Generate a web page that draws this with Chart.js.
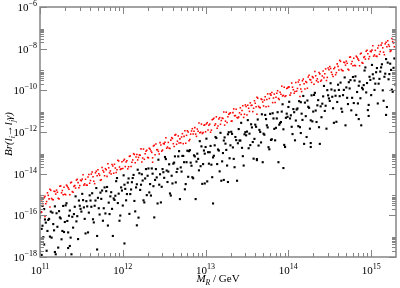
<!DOCTYPE html>
<html lang="en">
  <head>
    <meta charset="UTF-8" />
    <title>Br(li -> lj gamma) vs MR</title>
    <style>
      body { margin: 0; background: #fff; }
    </style>
  </head>
  <body>
    <canvas id="brChart" width="400" height="288"></canvas>
    <script src="https://cdn.jsdelivr.net/npm/chart.js"></script>
    <script>
      // points as [log10(M_R / GeV), log10(Br)]
      const redPts = [
        [11.01,-15.14],[11.03,-15.43],[11.05,-15.15],[11.07,-15.44],[11.09,-14.92],
        [11.11,-15.21],[11.13,-14.80],[11.15,-15.24],[11.17,-14.84],[11.19,-14.98],
        [11.21,-14.89],[11.23,-15.21],[11.25,-14.59],[11.27,-14.81],[11.29,-14.65],
        [11.31,-15.01],[11.33,-14.60],[11.35,-14.75],[11.37,-14.44],[11.39,-14.86],
        [11.41,-14.61],[11.43,-14.69],[11.45,-14.27],[11.47,-14.68],[11.49,-14.31],
        [11.51,-14.26],[11.53,-14.55],[11.55,-14.27],[11.57,-14.56],[11.59,-14.04],
        [11.61,-14.33],[11.63,-13.92],[11.65,-14.36],[11.67,-13.96],[11.69,-14.10],
        [11.71,-14.00],[11.73,-14.32],[11.75,-13.70],[11.77,-13.92],[11.79,-13.76],
        [11.81,-14.13],[11.83,-13.72],[11.85,-13.87],[11.87,-13.56],[11.89,-13.98],
        [11.91,-13.73],[11.93,-13.81],[11.95,-13.39],[11.97,-13.80],[11.99,-13.43],
        [12.01,-13.37],[12.03,-13.66],[12.05,-13.38],[12.07,-13.67],[12.09,-13.15],
        [12.11,-13.45],[12.13,-13.04],[12.15,-13.48],[12.17,-13.08],[12.19,-13.22],
        [12.21,-13.12],[12.23,-13.44],[12.25,-12.82],[12.27,-13.04],[12.29,-12.88],
        [12.31,-13.24],[12.33,-12.83],[12.35,-12.98],[12.37,-12.67],[12.39,-13.09],
        [12.41,-12.85],[12.43,-12.93],[12.45,-12.51],[12.47,-12.92],[12.49,-12.55],
        [12.51,-12.49],[12.53,-12.78],[12.55,-12.50],[12.57,-12.79],[12.59,-12.27],
        [12.61,-12.56],[12.63,-12.15],[12.65,-12.59],[12.67,-12.19],[12.69,-12.33],
        [12.71,-12.24],[12.73,-12.56],[12.75,-11.94],[12.77,-12.16],[12.79,-12.00],
        [12.81,-12.36],[12.83,-11.95],[12.85,-12.10],[12.87,-11.79],[12.89,-12.21],
        [12.91,-11.96],[12.93,-12.04],[12.95,-11.62],[12.97,-12.03],[12.99,-11.66],
        [13.01,-11.61],[13.03,-11.90],[13.05,-11.62],[13.07,-11.91],[13.09,-11.39],
        [13.11,-11.68],[13.13,-11.27],[13.15,-11.71],[13.17,-11.31],[13.19,-11.45],
        [13.21,-11.35],[13.23,-11.67],[13.25,-11.05],[13.27,-11.27],[13.29,-11.11],
        [13.31,-11.48],[13.33,-11.07],[13.35,-11.22],[13.37,-10.91],[13.39,-11.33],
        [13.41,-11.08],[13.43,-11.16],[13.45,-10.74],[13.47,-11.15],[13.49,-10.78],
        [13.51,-10.72],[13.53,-11.01],[13.55,-10.73],[13.57,-11.02],[13.59,-10.50],
        [13.61,-10.79],[13.63,-10.38],[13.65,-10.82],[13.67,-10.42],[13.69,-10.56],
        [13.71,-10.47],[13.73,-10.79],[13.75,-10.17],[13.77,-10.39],[13.79,-10.23],
        [13.81,-10.59],[13.83,-10.18],[13.85,-10.33],[13.87,-10.02],[13.89,-10.44],
        [13.91,-10.19],[13.93,-10.27],[13.95,-9.85],[13.97,-10.26],[13.99,-9.89],
        [14.01,-9.84],[14.03,-10.13],[14.05,-9.85],[14.07,-10.14],[14.09,-9.62],
        [14.11,-9.91],[14.13,-9.50],[14.15,-9.94],[14.17,-9.54],[14.19,-9.68],
        [14.21,-9.58],[14.23,-9.90],[14.25,-9.28],[14.27,-9.50],[14.29,-9.34],
        [14.31,-9.71],[14.33,-9.30],[14.35,-9.45],[14.37,-9.14],[14.39,-9.56],
        [14.41,-9.31],[14.43,-9.39],[14.45,-8.97],[14.47,-9.38],[14.49,-9.01],
        [14.51,-8.95],[14.53,-9.24],[14.55,-8.96],[14.57,-9.25],[14.59,-8.73],
        [14.61,-9.02],[14.63,-8.61],[14.65,-9.05],[14.67,-8.65],[14.69,-8.79],
        [14.71,-8.70],[14.73,-9.02],[14.75,-8.40],[14.77,-8.62],[14.79,-8.46],
        [14.81,-8.82],[14.83,-8.41],[14.85,-8.56],[14.87,-8.25],[14.89,-8.67],
        [14.91,-8.42],[14.93,-8.50],[14.95,-8.08],[14.97,-8.49],[14.99,-8.12],
        [15.01,-8.07],[15.03,-8.36],[15.05,-8.08],[15.07,-8.37],[15.09,-7.85],
        [15.11,-8.14],[15.13,-7.73],[15.15,-8.17],[15.17,-7.77],[15.19,-7.91],
        [15.21,-7.81],[15.23,-8.13],[15.25,-7.51],[15.27,-7.73],[15.29,-7.57],
        [11.00,-15.05],[11.02,-15.32],[11.04,-15.53],[11.06,-15.09],[11.08,-15.34],
        [11.10,-15.04],[11.12,-14.75],[11.14,-15.19],[11.16,-15.25],[11.18,-14.86],
        [11.20,-14.79],[11.22,-15.18],[11.24,-14.60],[11.26,-14.92],[11.28,-15.01],
        [11.30,-14.99],[11.32,-14.55],[11.34,-14.68],[11.36,-15.01],[11.38,-14.41],
        [11.40,-14.89],[11.42,-14.57],[11.44,-14.31],[11.46,-14.43],[11.48,-14.57],
        [11.50,-14.34],[11.52,-14.05],[11.54,-14.49],[11.56,-14.55],[11.58,-14.16],
        [11.60,-14.46],[11.62,-14.02],[11.64,-14.15],[11.66,-14.48],[11.68,-13.88],
        [11.70,-13.81],[11.72,-14.08],[11.74,-14.29],[11.76,-13.85],[11.78,-14.10],
        [11.80,-13.81],[11.82,-13.52],[11.84,-13.96],[11.86,-14.02],[11.88,-13.63],
        [11.90,-13.55],[11.92,-13.94],[11.94,-13.36],[11.96,-13.68],[11.98,-13.77],
        [12.00,-13.75],[12.02,-13.31],[12.04,-13.44],[12.06,-13.77],[12.08,-13.17],
        [12.10,-13.66],[12.12,-13.34],[12.14,-13.08],[12.16,-13.20],[12.18,-13.34],
        [12.20,-13.10],[12.22,-12.81],[12.24,-13.25],[12.26,-13.31],[12.28,-12.92],
        [12.30,-13.22],[12.32,-12.78],[12.34,-12.91],[12.36,-13.24],[12.38,-12.64],
        [12.40,-12.58],[12.42,-12.85],[12.44,-13.06],[12.46,-12.62],[12.48,-12.87],
        [12.50,-12.57],[12.52,-12.28],[12.54,-12.72],[12.56,-12.78],[12.58,-12.39],
        [12.60,-12.31],[12.62,-12.70],[12.64,-12.12],[12.66,-12.44],[12.68,-12.53],
        [12.70,-12.52],[12.72,-12.08],[12.74,-12.21],[12.76,-12.54],[12.78,-11.94],
        [12.80,-12.42],[12.82,-12.10],[12.84,-11.84],[12.86,-11.96],[12.88,-12.10],
        [12.90,-11.86],[12.92,-11.57],[12.94,-12.01],[12.96,-12.07],[12.98,-11.68],
        [13.00,-11.99],[13.02,-11.55],[13.04,-11.68],[13.06,-12.01],[13.08,-11.41],
        [13.10,-11.34],[13.12,-11.61],[13.14,-11.82],[13.16,-11.38],[13.18,-11.63],
        [13.20,-11.33],[13.22,-11.04],[13.24,-11.48],[13.26,-11.54],[13.28,-11.15],
        [13.30,-11.08],[13.32,-11.47],[13.34,-10.89],[13.36,-11.21],[13.38,-11.30],
        [13.40,-11.28],[13.42,-10.84],[13.44,-10.97],[13.46,-11.30],[13.48,-10.70],
        [13.50,-11.18],[13.52,-10.86],[13.54,-10.60],[13.56,-10.72],[13.58,-10.86],
        [13.60,-10.62],[13.62,-10.33],[13.64,-10.77],[13.66,-10.83],[13.68,-10.44],
        [13.70,-10.75],[13.72,-10.31],[13.74,-10.44],[13.76,-10.77],[13.78,-10.17],
        [13.80,-10.10],[13.82,-10.37],[13.84,-10.58],[13.86,-10.14],[13.88,-10.39],
        [13.90,-10.09],[13.92,-9.80],[13.94,-10.24],[13.96,-10.30],[13.98,-9.91],
        [14.00,-9.84],[14.02,-10.23],[14.04,-9.65],[14.06,-9.97],[14.08,-10.06],
        [14.10,-10.04],[14.12,-9.60],[14.14,-9.73],[14.16,-10.06],[14.18,-9.46],
        [14.20,-9.94],[14.22,-9.62],[14.24,-9.36],[14.26,-9.48],[14.28,-9.62],
        [14.30,-9.39],[14.32,-9.10],[14.34,-9.54],[14.36,-9.60],[14.38,-9.21],
        [14.40,-9.51],[14.42,-9.07],[14.44,-9.20],[14.46,-9.53],[14.48,-8.93],
        [14.50,-8.86],[14.52,-9.13],[14.54,-9.34],[14.56,-8.90],[14.58,-9.15],
        [14.60,-8.85],[14.62,-8.56],[14.64,-9.00],[14.66,-9.06],[14.68,-8.67],
        [14.70,-8.60],[14.72,-8.99],[14.74,-8.41],[14.76,-8.73],[14.78,-8.82],
        [14.80,-8.80],[14.82,-8.36],[14.84,-8.49],[14.86,-8.82],[14.88,-8.22],
        [14.90,-8.70],[14.92,-8.38],[14.94,-8.12],[14.96,-8.24],[14.98,-8.38],
        [15.00,-8.15],[15.02,-7.86],[15.04,-8.30],[15.06,-8.36],[15.08,-7.97],
        [15.10,-8.27],[15.12,-7.83],[15.14,-7.96],[15.16,-8.29],[15.18,-7.69],
        [15.20,-7.62],[15.22,-7.89],[15.24,-8.10],[15.26,-7.66],[15.28,-7.91],
        [11.02,-15.85],[11.06,-16.05],[11.12,-15.60],[12.36,-13.45],[13.62,-11.15],[14.14,-10.30]
      ];

      const blackPts = [
        [11.01,-15.85],[11.03,-16.50],[11.04,-17.05],[11.06,-16.20],[11.08,-17.70],[11.09,-16.75],
        [11.11,-16.17],[11.13,-15.82],[11.14,-17.07],[11.16,-16.42],[11.18,-15.57],[11.19,-17.87],
        [11.21,-16.55],[11.23,-15.80],[11.24,-16.10],[11.26,-17.15],[11.28,-15.55],[11.29,-16.80],
        [11.31,-15.52],[11.33,-16.27],[11.34,-16.82],[11.36,-15.77],[11.38,-17.87],[11.39,-16.07],
        [11.41,-15.94],[11.43,-15.09],[11.44,-16.29],[11.46,-17.14],[11.48,-15.54],[11.49,-15.69],
        [11.51,-14.97],[11.53,-15.62],[11.54,-16.17],[11.56,-15.32],[11.58,-16.82],[11.59,-15.87],
        [11.61,-15.29],[11.63,-14.94],[11.64,-16.19],[11.66,-15.54],[11.68,-14.69],[11.69,-16.99],
        [11.71,-15.66],[11.73,-14.91],[11.74,-15.21],[11.76,-16.26],[11.78,-14.66],[11.79,-15.91],
        [11.81,-14.64],[11.83,-15.39],[11.84,-15.94],[11.86,-14.89],[11.88,-16.99],[11.89,-15.19],
        [11.91,-15.06],[11.93,-14.21],[11.94,-15.41],[11.96,-16.26],[11.98,-14.66],[11.99,-14.81],
        [12.01,-14.08],[12.03,-14.73],[12.04,-15.28],[12.06,-14.43],[12.08,-15.93],[12.09,-14.98],
        [12.11,-14.41],[12.13,-14.06],[12.14,-15.31],[12.16,-14.66],[12.18,-13.81],[12.19,-16.11],
        [12.21,-14.78],[12.23,-14.03],[12.24,-14.33],[12.26,-15.38],[12.28,-13.78],[12.29,-15.03],
        [12.31,-13.75],[12.33,-14.50],[12.34,-15.05],[12.36,-14.00],[12.38,-16.10],[12.39,-14.30],
        [12.41,-14.18],[12.43,-13.33],[12.44,-14.53],[12.46,-15.38],[12.48,-13.78],[12.49,-13.93],
        [12.51,-13.20],[12.53,-13.85],[12.54,-14.40],[12.56,-13.55],[12.58,-15.05],[12.59,-14.10],
        [12.61,-13.52],[12.63,-13.17],[12.64,-14.42],[12.66,-13.77],[12.68,-12.92],[12.69,-15.22],
        [12.71,-13.90],[12.73,-13.15],[12.74,-13.45],[12.76,-14.50],[12.78,-12.90],[12.79,-14.15],
        [12.81,-12.87],[12.83,-13.62],[12.84,-14.17],[12.86,-13.12],[12.88,-15.22],[12.89,-13.42],
        [12.91,-13.29],[12.93,-12.44],[12.94,-13.64],[12.96,-14.49],[12.98,-12.89],[12.99,-13.04],
        [13.01,-12.32],[13.03,-12.97],[13.04,-13.52],[13.06,-12.67],[13.08,-14.17],[13.09,-13.22],
        [13.11,-12.64],[13.13,-12.29],[13.14,-13.54],[13.16,-12.89],[13.18,-12.04],[13.19,-14.34],
        [13.21,-13.01],[13.23,-12.26],[13.24,-12.56],[13.26,-13.61],[13.28,-12.01],[13.29,-13.26],
        [13.31,-11.99],[13.33,-12.74],[13.34,-13.29],[13.36,-12.24],[13.38,-14.34],[13.39,-12.54],
        [13.41,-12.41],[13.43,-11.56],[13.44,-12.76],[13.46,-13.61],[13.48,-12.01],[13.49,-12.16],
        [13.51,-11.43],[13.53,-12.08],[13.54,-12.63],[13.56,-11.78],[13.58,-13.28],[13.59,-12.33],
        [13.61,-11.75],[13.63,-11.40],[13.64,-12.65],[13.66,-12.00],[13.68,-11.15],[13.69,-13.45],
        [13.71,-12.13],[13.73,-11.38],[13.74,-11.68],[13.76,-12.73],[13.78,-11.13],[13.79,-12.38],
        [13.81,-11.10],[13.83,-11.85],[13.84,-12.40],[13.86,-11.35],[13.88,-13.45],[13.89,-11.65],
        [13.91,-11.52],[13.93,-10.67],[13.94,-11.87],[13.96,-12.72],[13.98,-11.12],[13.99,-11.27],
        [14.01,-10.55],[14.03,-11.20],[14.04,-11.75],[14.06,-10.90],[14.08,-12.40],[14.09,-11.45],
        [14.11,-10.87],[14.13,-10.52],[14.14,-11.77],[14.16,-11.12],[14.18,-10.27],[14.19,-12.57],
        [14.21,-11.24],[14.23,-10.49],[14.24,-10.79],[14.26,-11.84],[14.28,-10.24],[14.29,-11.49],
        [14.31,-10.22],[14.33,-10.97],[14.34,-11.52],[14.36,-10.47],[14.38,-12.57],[14.39,-10.77],
        [14.41,-10.64],[14.43,-9.79],[14.44,-10.99],[14.46,-11.84],[14.48,-10.24],[14.49,-10.39],
        [14.51,-9.66],[14.53,-10.31],[14.54,-10.86],[14.56,-10.01],[14.58,-11.51],[14.59,-10.56],
        [14.61,-9.98],[14.63,-9.63],[14.64,-10.88],[14.66,-10.23],[14.68,-9.38],[14.69,-11.68],
        [14.71,-10.36],[14.73,-9.61],[14.74,-9.91],[14.76,-10.96],[14.78,-9.36],[14.79,-10.61],
        [14.81,-9.33],[14.83,-10.08],[14.84,-10.63],[14.86,-9.58],[14.88,-11.68],[14.89,-9.88],
        [14.91,-9.75],[14.93,-8.90],[14.94,-10.10],[14.96,-10.95],[14.98,-9.35],[14.99,-9.50],
        [15.01,-8.78],[15.03,-9.43],[15.04,-9.98],[15.06,-9.13],[15.08,-10.63],[15.09,-9.68],
        [15.11,-9.10],[15.13,-8.75],[15.14,-10.00],[15.16,-9.35],[15.18,-8.50],[15.19,-10.80],
        [15.21,-9.47],[15.23,-8.72],[15.24,-9.02],[15.26,-10.07],[15.28,-8.47],[15.29,-9.72],
        [11.00,-16.10],[11.02,-16.65],[11.05,-17.40],[11.07,-16.35],
        [11.10,-16.22],[11.12,-17.02],[11.15,-15.87],[11.17,-16.72],
        [11.20,-15.90],[11.22,-17.55],[11.25,-16.15],[11.27,-16.75],
        [11.30,-16.32],[11.32,-15.42],[11.35,-16.02],[11.37,-17.07],
        [11.40,-16.59],[11.42,-15.59],[11.45,-16.04],[11.47,-15.29],
        [11.50,-15.82],[11.52,-15.27],[11.55,-16.87],[11.57,-15.57],
        [11.60,-15.04],[11.62,-15.59],[11.65,-16.34],[11.67,-15.29],
        [11.70,-15.16],[11.72,-15.96],[11.75,-14.81],[11.77,-15.66],
        [11.80,-14.84],[11.82,-16.49],[11.85,-15.09],[11.87,-15.69],
        [11.90,-15.26],[11.92,-14.36],[11.95,-14.96],[11.97,-16.01],
        [12.00,-15.53],[12.02,-14.53],[12.05,-14.98],[12.07,-14.23],
        [12.10,-14.76],[12.12,-14.21],[12.15,-15.81],[12.17,-14.51],
        [12.20,-13.98],[12.22,-14.53],[12.25,-15.28],[12.27,-14.23],
        [12.30,-14.10],[12.32,-14.90],[12.35,-13.75],[12.37,-14.60],
        [12.40,-13.78],[12.42,-15.43],[12.45,-14.03],[12.47,-14.63],
        [12.50,-14.20],[12.52,-13.30],[12.55,-13.90],[12.57,-14.95],
        [12.60,-14.47],[12.62,-13.47],[12.65,-13.92],[12.67,-13.17],
        [12.70,-13.70],[12.72,-13.15],[12.75,-14.75],[12.77,-13.45],
        [12.80,-12.92],[12.82,-13.47],[12.85,-14.22],[12.87,-13.17],
        [12.90,-13.04],[12.92,-13.84],[12.95,-12.69],[12.97,-13.54],
        [13.00,-12.72],[13.02,-14.37],[13.05,-12.97],[13.07,-13.57],
        [13.10,-13.14],[13.12,-12.24],[13.15,-12.84],[13.17,-13.89],
        [13.20,-13.41],[13.22,-12.41],[13.25,-12.86],[13.27,-12.11],
        [13.30,-12.64],[13.32,-12.09],[13.35,-13.69],[13.37,-12.39],
        [13.40,-11.86],[13.42,-12.41],[13.45,-13.16],[13.47,-12.11],
        [13.50,-11.98],[13.52,-12.78],[13.55,-11.63],[13.57,-12.48],
        [13.60,-11.65],[13.62,-13.30],[13.65,-11.90],[13.67,-12.50],
        [13.70,-12.08],[13.72,-11.18],[13.75,-11.78],[13.77,-12.83],
        [13.80,-12.35],[13.82,-11.35],[13.85,-11.80],[13.87,-11.05],
        [13.90,-11.57],[13.92,-11.02],[13.95,-12.62],[13.97,-11.32],
        [14.00,-10.80],[14.02,-11.35],[14.05,-12.10],[14.07,-11.05],
        [14.10,-10.92],[14.12,-11.72],[14.15,-10.57],[14.17,-11.42],
        [14.20,-10.59],[14.22,-12.24],[14.25,-10.84],[14.27,-11.44],
        [14.30,-11.02],[14.32,-10.12],[14.35,-10.72],[14.37,-11.77],
        [14.40,-11.29],[14.42,-10.29],[14.45,-10.74],[14.47,-9.99],
        [14.50,-10.51],[14.52,-9.96],[14.55,-11.56],[14.57,-10.26],
        [14.60,-9.73],[14.62,-10.28],[14.65,-11.03],[14.67,-9.98],
        [14.70,-9.86],[14.72,-10.66],[14.75,-9.51],[14.77,-10.36],
        [14.80,-9.53],[14.82,-11.18],[14.85,-9.78],[14.87,-10.38],
        [14.90,-9.95],[14.92,-9.05],[14.95,-9.65],[14.97,-10.70],
        [15.00,-10.23],[15.02,-9.23],[15.05,-9.68],[15.07,-8.93],
        [15.10,-9.45],[15.12,-8.90],[15.15,-10.50],[15.17,-9.20],
        [15.20,-8.67],[15.22,-9.22],[15.25,-9.97],[15.27,-8.92],
        [11.02,-17.90],[11.18,-17.76],[11.34,-17.57],[11.36,-17.47],[11.69,-17.64],[12.02,-17.35],
        [12.17,-16.48],[12.99,-14.47],[13.09,-15.43],[13.22,-14.30],[13.27,-14.40],[13.62,-13.35],
        [13.94,-13.73],[14.15,-12.05],[14.27,-12.53],[14.27,-12.72],[14.85,-11.38],[14.97,-11.23],
        [15.18,-11.18],[11.03,-15.55],[11.05,-15.70]
      ];

      const xMinExp = 11;
      const xMaxExp = 15.3;
      const yMinExp = -18;
      const yMaxExp = -6;
      const xTickExps = [11, 12, 13, 14, 15];
      const yTickExps = [-18, -16, -14, -12, -10, -8, -6];
      const minorMults = [2, 3, 4, 5, 6, 7, 8, 9];

      const toXY = (p) => ({ x: Math.pow(10, p[0]), y: Math.pow(10, p[1]) });

      const axisColor = '#858585';
      const serif = '"Liberation Serif", "DejaVu Serif", serif';

      // label like 10^n, aligned on (x, y)
      function powLabel(c, exp, x, y, align) {
        c.font = '11px ' + serif;
        const wb = c.measureText('10').width;
        c.font = '8px ' + serif;
        const es = String(exp).replace('-', '\u2212');
        const we = c.measureText(es).width;
        const total = wb + we;
        let sx = x;
        if (align === 'right') sx = x - total;
        else if (align === 'center') sx = x - total / 2;
        c.textAlign = 'left';
        c.textBaseline = 'alphabetic';
        c.font = '11px ' + serif;
        c.fillText('10', sx, y + 4);
        c.font = '8px ' + serif;
        c.fillText(es, sx + wb, y - 1);
      }

      // pieces [text, style]: 'n' normal, 'i' italic, 's' italic subscript
      function pieceWidth(c, parts, size) {
        let w = 0;
        parts.forEach(([t, s]) => {
          c.font = (s === 'n' ? '' : 'italic ') + (s === 's' ? size * 0.7 : size) + 'px ' + serif;
          w += c.measureText(t).width;
        });
        return w;
      }
      function drawPieces(c, parts, size, x, y) {
        let px = x;
        parts.forEach(([t, s]) => {
          c.font = (s === 'n' ? '' : 'italic ') + (s === 's' ? size * 0.7 : size) + 'px ' + serif;
          c.fillText(t, px, s === 's' ? y + 3 : y);
          px += c.measureText(t).width;
        });
      }

      const framePlugin = {
        id: 'frame',
        afterDraw(chart) {
          const c = chart.ctx;
          const a = chart.chartArea;
          const xs = chart.scales.x;
          const ys = chart.scales.y;
          c.save();
          c.strokeStyle = axisColor;
          c.lineWidth = 1.5;
          c.strokeRect(a.left, a.top, a.right - a.left, a.bottom - a.top);

          c.lineWidth = 1;
          c.beginPath();
          // x ticks, bottom and top
          for (let e = xMinExp; e < Math.ceil(xMaxExp); e++) {
            const px = Math.round(xs.getPixelForValue(Math.pow(10, e))) + 0.5;
            c.moveTo(px, a.bottom); c.lineTo(px, a.bottom - 7);
            c.moveTo(px, a.top); c.lineTo(px, a.top + 7);
            minorMults.forEach((m) => {
              const v = m * Math.pow(10, e);
              if (Math.log10(v) > xMaxExp) return;
              const mx = Math.round(xs.getPixelForValue(v)) + 0.5;
              c.moveTo(mx, a.bottom); c.lineTo(mx, a.bottom - 4);
              c.moveTo(mx, a.top); c.lineTo(mx, a.top + 4);
            });
          }
          // y ticks, left and right
          yTickExps.forEach((e) => {
            const py = Math.round(ys.getPixelForValue(Math.pow(10, e))) + 0.5;
            c.moveTo(a.left, py); c.lineTo(a.left + 7, py);
            c.moveTo(a.right, py); c.lineTo(a.right - 7, py);
            if (e >= yMaxExp) return;
            minorMults.forEach((m) => {
              const my = Math.round(ys.getPixelForValue(m * Math.pow(10, e))) + 0.5;
              c.moveTo(a.left, my); c.lineTo(a.left + 4, my);
              c.moveTo(a.right, my); c.lineTo(a.right - 4, my);
            });
          });
          c.stroke();

          c.fillStyle = '#000';
          xTickExps.forEach((e) => {
            powLabel(c, e, xs.getPixelForValue(Math.pow(10, e)), a.bottom + 13, 'center');
          });
          yTickExps.forEach((e) => {
            powLabel(c, e, a.left - 3, ys.getPixelForValue(Math.pow(10, e)), 'right');
          });

          // axis titles
          c.textAlign = 'left';
          c.textBaseline = 'alphabetic';
          const xParts = [['M', 'i'], ['R', 's'], [' / GeV', 'n']];
          const xw = pieceWidth(c, xParts, 11);
          drawPieces(c, xParts, 11, (a.left + a.right) / 2 - xw / 2, 282);

          const yParts = [['Br(l', 'i'], ['i', 's'], ['\u2192', 'n'], ['l', 'i'], ['j', 's'], ['\u03b3)', 'i']];
          const yw = pieceWidth(c, yParts, 11);
          c.translate(12, (a.top + a.bottom) / 2 + 2);
          c.rotate(-Math.PI / 2);
          drawPieces(c, yParts, 11, -yw / 2, 0);
          c.restore();
        },
      };

      const context = document.getElementById('brChart').getContext('2d');
      const chart = new Chart(context, {
        type: 'scatter',
        data: {
          datasets: [
            {
              label: 'red',
              data: redPts.map(toXY),
              backgroundColor: '#ff0000',
              pointStyle: 'rect',
              pointRadius: 1.1,
              borderWidth: 0,
            },
            {
              label: 'black',
              data: blackPts.map(toXY),
              backgroundColor: '#000000',
              pointStyle: 'rect',
              pointRadius: 1.5,
              borderWidth: 0,
            },
          ],
        },
        options: {
          responsive: false,
          animation: false,
          devicePixelRatio: 1,
          layout: { padding: { left: 40, right: 2, top: 7, bottom: 31 } },
          plugins: { legend: { display: false }, tooltip: { enabled: false } },
          scales: {
            x: { type: 'logarithmic', min: Math.pow(10, xMinExp), max: Math.pow(10, xMaxExp), display: false },
            y: { type: 'logarithmic', min: Math.pow(10, yMinExp), max: Math.pow(10, yMaxExp), display: false },
          },
        },
        plugins: [framePlugin],
      });
    </script>
  </body>
</html>
